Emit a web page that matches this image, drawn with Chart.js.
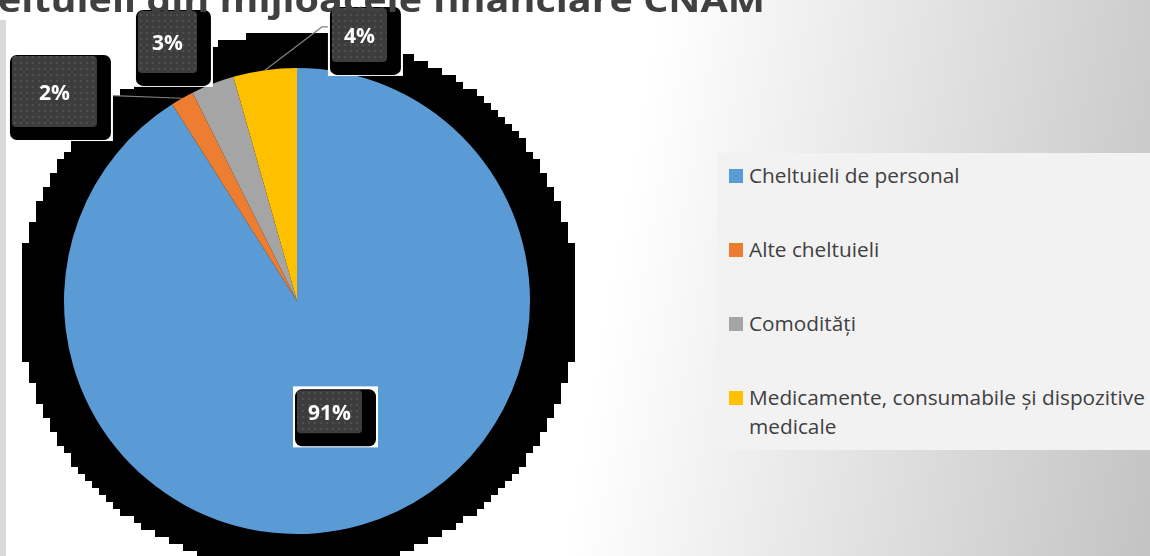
<!DOCTYPE html>
<html>
<head>
<meta charset="utf-8">
<script src="https://cdn.jsdelivr.net/npm/chart.js@4.4.0/dist/chart.umd.min.js"></script>
<style>
html,body{margin:0;padding:0;}
body{width:1150px;height:556px;overflow:hidden;position:relative;
  background:linear-gradient(100deg,#ffffff 53%,#c3c3c3 100%);
  font-family:"Open Sans",sans-serif;}
#strip{position:absolute;left:0;top:20px;width:6px;height:536px;background:#d9d9d9;}
#chart{position:absolute;left:0;top:0;}
#legend{position:absolute;left:717px;top:153px;width:433px;height:297px;background:#f2f2f2;}
.item{position:absolute;left:12px;display:flex;align-items:flex-start;color:#404040;
  font-size:20.8px;line-height:29px;}
.sw{width:14px;height:14px;margin-top:8px;margin-right:6px;flex:none;}
.txt{width:412px;}
</style>
</head>
<body>
<div id="strip"></div>
<canvas id="chart" width="1150" height="556"></canvas>
<div id="legend"></div>
<script>
const title = "Cheltuieli din mijloacele financiare CNAM";
const labels = ["Cheltuieli de personal","Alte cheltuieli","Comodități","Medicamente, consumabile și dispozitive medicale"];
const values = [91.0, 1.6, 3.0, 4.4];
const colors = ["#5b9bd5","#ed7d31","#a5a5a5","#ffc000"];

// where the callout boxes sit (offset from pie centre in radii), no offset = inside the slice
const callouts = [
  {w:65, h:43},
  {dx:-1.041, dy:-0.899, w:85, h:71, leader:true},
  {dx:-0.556, dy:-1.112, w:59, h:62},
  {dx:0.268, dy:-1.142, w:55, h:54, leader:true}
];

// legend
const legend = document.getElementById("legend");
labels.forEach((l,i)=>{
  const it = document.createElement("div");
  it.className = "item";
  it.style.top = (8 + i*74) + "px";
  it.innerHTML = '<span class="sw" style="background:'+colors[i]+'"></span><span class="txt"></span>';
  it.querySelector(".txt").textContent = l;
  legend.appendChild(it);
});

// dotted fill for the label boxes
const pat = document.createElement("canvas");
pat.width = 6; pat.height = 6;
const pc = pat.getContext("2d");
pc.fillStyle = "#3d3d3d"; pc.fillRect(0,0,6,6);
pc.fillStyle = "#4f4f4f"; pc.fillRect(2,2,2,2);

const blockShadow = {
  id:"blockShadow",
  beforeDatasetsDraw(chart){
    const a = chart.getDatasetMeta(0).data[0];
    const ctx = chart.ctx;
    const cx = a.x+1, cy = a.y+1, rx = a.outerRadius*1.2, ry = a.outerRadius*1.16, s = 7;
    ctx.save();
    ctx.fillStyle = "#000";
    const nx = Math.ceil(rx/s)+1, ny = Math.ceil(ry/s)+1;
    for(let j=-ny;j<=ny;j++){
      for(let i=-nx;i<=nx;i++){
        const px=i*s, py=j*s;
        if((px*px)/(rx*rx)+(py*py)/(ry*ry)<=1){
          ctx.fillRect(Math.round(cx+px-s/2), Math.round(cy+py-s/2), s, s);
        }
      }
    }
    ctx.restore();
  }
};

const callout = {
  id:"callout",
  afterDatasetsDraw(chart){
    const ctx = chart.ctx;
    const meta = chart.getDatasetMeta(0);
    const total = values.reduce((a,b)=>a+b,0);
    const boxes = meta.data.map((arc,i)=>{
      const c = callouts[i];
      let x, y;
      if(c.dx===undefined){
        const p = arc.tooltipPosition();
        x = p.x; y = p.y-1;
      } else {
        x = arc.x + c.dx*arc.outerRadius;
        y = arc.y + c.dy*arc.outerRadius;
      }
      return {x:x-c.w/2, y:y-c.h/2, w:c.w, h:c.h, cx:x, cy:y};
    });
    // leader lines
    ctx.save();
    ctx.strokeStyle = "#7f7f7f";
    ctx.lineWidth = 1.2;
    meta.data.forEach((arc,i)=>{
      if(!callouts[i].leader) return;
      const mid = (arc.startAngle+arc.endAngle)/2;
      const ax = arc.x + Math.cos(mid)*arc.outerRadius;
      const ay = arc.y + Math.sin(mid)*arc.outerRadius;
      const b = boxes[i];
      ctx.beginPath();
      ctx.moveTo(ax, ay);
      if(b.cx < ax){
        ctx.lineTo(b.x+b.w+16, b.cy+4);
      } else {
        ctx.lineTo(b.x-10, b.cy-8);
        ctx.lineTo(b.x-4, b.cy-8);
      }
      ctx.stroke();
    });
    ctx.restore();
    // boxes
    boxes.forEach((b,i)=>{
      ctx.save();
      ctx.fillStyle = "#ffffff";
      ctx.fillRect(b.x-4, b.y-4, b.w+20, b.h+18);
      ctx.fillStyle = "#000";
      ctx.beginPath(); ctx.roundRect(b.x-2, b.y-1, b.w+16, b.h+14, 7); ctx.fill();
      ctx.fillStyle = ctx.createPattern(pat,"repeat");
      ctx.beginPath(); ctx.roundRect(b.x, b.y, b.w, b.h, 4); ctx.fill();
      ctx.fillStyle = "#ffffff";
      ctx.font = "bold 21px 'Open Sans'";
      ctx.textAlign = "center";
      ctx.textBaseline = "middle";
      ctx.fillText(Math.round(values[i]/total*100)+"%", b.cx, b.cy+2);
      ctx.restore();
    });
  }
};

const titlePlugin = {
  id:"cutTitle",
  afterDraw(chart){
    const ctx = chart.ctx;
    ctx.save();
    ctx.font = "bold 34px 'Open Sans'";
    const shown = title.slice(title.indexOf("eltuieli"));
    const sx = 767/ctx.measureText(shown).width;
    ctx.translate(765, 12);
    ctx.scale(sx, 1);
    ctx.fillStyle = "#404040";
    ctx.textAlign = "right";
    ctx.textBaseline = "alphabetic";
    ctx.fillText(title, 0, 0);
    ctx.restore();
  }
};

new Chart(document.getElementById("chart"),{
  type:"pie",
  data:{
    labels:labels,
    datasets:[{data:values, backgroundColor:colors, borderWidth:0}]
  },
  options:{
    responsive:false,
    animation:false,
    layout:{padding:{left:64,right:620,top:68,bottom:22}},
    plugins:{legend:{display:false}, tooltip:{enabled:false}}
  },
  plugins:[blockShadow, callout, titlePlugin]
});
</script>
</body>
</html>
